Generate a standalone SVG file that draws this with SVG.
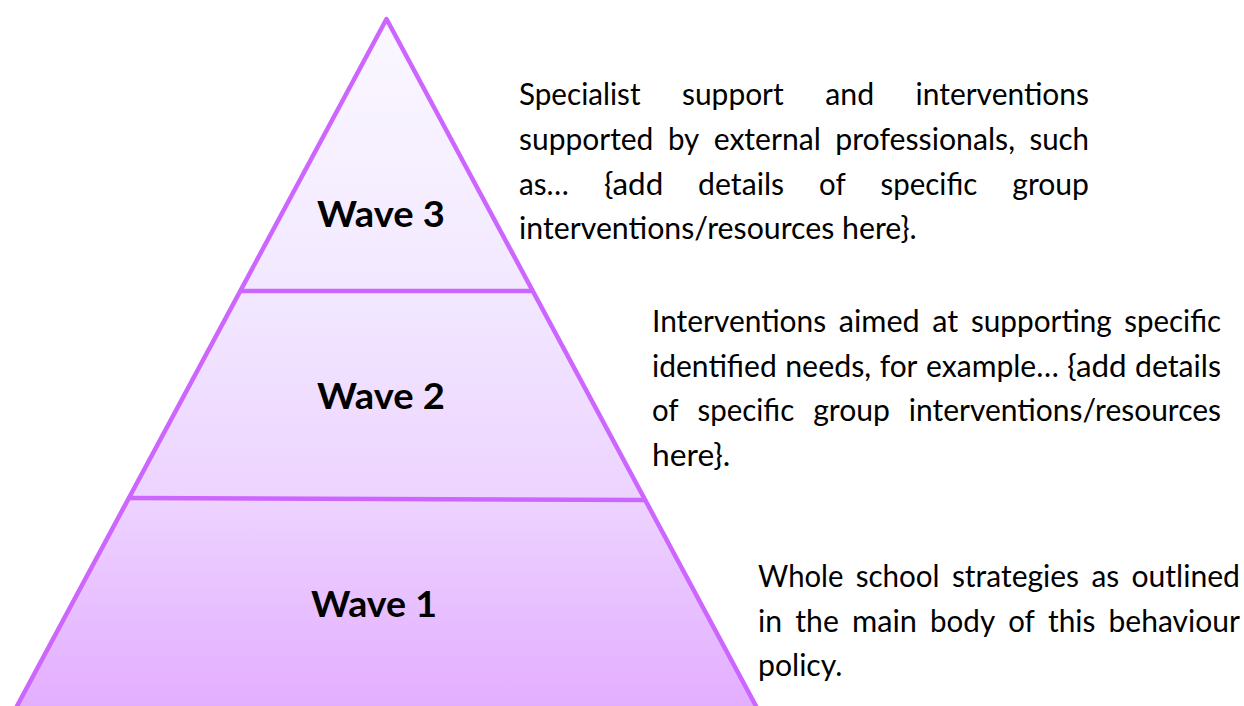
<svg xmlns="http://www.w3.org/2000/svg" width="1244" height="706" viewBox="0 0 1244 706">
  <style>
    .tier { stroke: none; }
    .edge { fill: none; stroke: #CC66FF; stroke-width: 4.5; stroke-linejoin: round; }
    .wave { font-family: Lato, "Open Sans", "Liberation Sans", sans-serif; font-weight: 700; font-size: 36px; fill: #000; text-anchor: middle; }
    .desc text { font-family: Lato, "Open Sans", "Liberation Sans", sans-serif; font-size: 30px; fill: #000; }
  </style>
  <defs>
    <linearGradient id="pyrFill" gradientUnits="userSpaceOnUse" x1="0" y1="19" x2="0" y2="706">
      <stop offset="0" stop-color="#FBF8FF"/>
      <stop offset="0.4" stop-color="#F2E8FF"/>
      <stop offset="0.7" stop-color="#EDD3FF"/>
      <stop offset="1" stop-color="#E3AEFF"/>
    </linearGradient>
  </defs>

  <rect width="1244" height="706" fill="#FFFFFF"/>

  <!-- pyramid tiers -->
  <g id="tier-wave3">
    <polygon class="tier" fill="url(#pyrFill)" points="386.5,19 532.8,291 240.2,291"/>
    <text class="wave" x="381" y="227" textLength="128" lengthAdjust="spacingAndGlyphs">Wave 3</text>
  </g>
  <g id="tier-wave2">
    <polygon class="tier" fill="url(#pyrFill)" points="240.2,291 532.8,291 644.6,499 128.4,499"/>
    <text class="wave" x="381" y="409" textLength="128" lengthAdjust="spacingAndGlyphs">Wave 2</text>
  </g>
  <g id="tier-wave1">
    <polygon class="tier" fill="url(#pyrFill)" points="128.4,499 644.6,499 763.5,720 9.5,720"/>
    <text class="wave" x="374" y="617" textLength="126" lengthAdjust="spacingAndGlyphs">Wave 1</text>
  </g>

  <!-- outline and tier dividers -->
  <g id="pyramid-outline">
    <polygon class="edge" points="386.5,19 763.5,720 9.5,720"/>
    <line class="edge" x1="241" y1="291" x2="532" y2="291"/>
    <line class="edge" x1="129" y1="498" x2="644" y2="500"/>
  </g>

  <!-- description beside Wave 3: justified, one text per word -->
  <g id="desc-wave3" class="desc" lengthAdjust="spacingAndGlyphs">
    <text x="519" y="105" textLength="121.5" lengthAdjust="spacingAndGlyphs">Specialist</text>
    <text x="682" y="105" textLength="101.7" lengthAdjust="spacingAndGlyphs">support</text>
    <text x="825.2" y="105" textLength="48.9" lengthAdjust="spacingAndGlyphs">and</text>
    <text x="915.6" y="105" textLength="173.4" lengthAdjust="spacingAndGlyphs">interventions</text>

    <text x="519" y="150" textLength="134.4" lengthAdjust="spacingAndGlyphs">supported</text>
    <text x="667.9" y="150" textLength="31.3" lengthAdjust="spacingAndGlyphs">by</text>
    <text x="713.7" y="150" textLength="107.1" lengthAdjust="spacingAndGlyphs">external</text>
    <text x="835.3" y="150" textLength="179.7" lengthAdjust="spacingAndGlyphs">professionals,</text>
    <text x="1029.4" y="150" textLength="59.6" lengthAdjust="spacingAndGlyphs">such</text>

    <text x="519" y="194.5" textLength="49.9" lengthAdjust="spacingAndGlyphs">as…</text>
    <text x="603.9" y="194.5" textLength="59.3" lengthAdjust="spacingAndGlyphs">{add</text>
    <text x="698.1" y="194.5" textLength="86" lengthAdjust="spacingAndGlyphs">details</text>
    <text x="819.1" y="194.5" textLength="26.6" lengthAdjust="spacingAndGlyphs">of</text>
    <text x="880.6" y="194.5" textLength="96.7" lengthAdjust="spacingAndGlyphs">specific</text>
    <text x="1012.3" y="194.5" textLength="76.7" lengthAdjust="spacingAndGlyphs">group</text>

    <text x="519" y="239" textLength="397.7" lengthAdjust="spacingAndGlyphs">interventions/resources here}.</text>
  </g>

  <!-- description beside Wave 2 -->
  <g id="desc-wave2" class="desc">
    <text x="652" y="332" textLength="174.1" lengthAdjust="spacingAndGlyphs">Interventions</text>
    <text x="838.7" y="332" textLength="81" lengthAdjust="spacingAndGlyphs">aimed</text>
    <text x="932.3" y="332" textLength="26" lengthAdjust="spacingAndGlyphs">at</text>
    <text x="970.9" y="332" textLength="140.9" lengthAdjust="spacingAndGlyphs">supporting</text>
    <text x="1124.3" y="332" textLength="96.7" lengthAdjust="spacingAndGlyphs">specific</text>

    <text x="652" y="376.5" textLength="124.7" lengthAdjust="spacingAndGlyphs">identified</text>
    <text x="785.2" y="376.5" textLength="86" lengthAdjust="spacingAndGlyphs">needs,</text>
    <text x="879.7" y="376.5" textLength="37.8" lengthAdjust="spacingAndGlyphs">for</text>
    <text x="926" y="376.5" textLength="132.8" lengthAdjust="spacingAndGlyphs">example…</text>
    <text x="1067.3" y="376.5" textLength="59.3" lengthAdjust="spacingAndGlyphs">{add</text>
    <text x="1135" y="376.5" textLength="86" lengthAdjust="spacingAndGlyphs">details</text>

    <text x="652" y="421" textLength="26.6" lengthAdjust="spacingAndGlyphs">of</text>
    <text x="697.5" y="421" textLength="96.7" lengthAdjust="spacingAndGlyphs">specific</text>
    <text x="813.2" y="421" textLength="76.7" lengthAdjust="spacingAndGlyphs">group</text>
    <text x="908.8" y="421" textLength="312.2" lengthAdjust="spacingAndGlyphs">interventions/resources</text>

    <text x="652" y="465.5" textLength="78.3" lengthAdjust="spacingAndGlyphs">here}.</text>
  </g>

  <!-- description beside Wave 1 -->
  <g id="desc-wave1" class="desc">
    <text x="758" y="587" textLength="85.4" lengthAdjust="spacingAndGlyphs">Whole</text>
    <text x="855.7" y="587" textLength="83.9" lengthAdjust="spacingAndGlyphs">school</text>
    <text x="951.9" y="587" textLength="127.2" lengthAdjust="spacingAndGlyphs">strategies</text>
    <text x="1091.4" y="587" textLength="27.8" lengthAdjust="spacingAndGlyphs">as</text>
    <text x="1131.4" y="587" textLength="108.6" lengthAdjust="spacingAndGlyphs">outlined</text>

    <text x="758" y="631.5" textLength="24.1" lengthAdjust="spacingAndGlyphs">in</text>
    <text x="795.3" y="631.5" textLength="43.5" lengthAdjust="spacingAndGlyphs">the</text>
    <text x="851.9" y="631.5" textLength="65" lengthAdjust="spacingAndGlyphs">main</text>
    <text x="930.1" y="631.5" textLength="65" lengthAdjust="spacingAndGlyphs">body</text>
    <text x="1008.2" y="631.5" textLength="26.6" lengthAdjust="spacingAndGlyphs">of</text>
    <text x="1048" y="631.5" textLength="47.4" lengthAdjust="spacingAndGlyphs">this</text>
    <text x="1108.5" y="631.5" textLength="131.5" lengthAdjust="spacingAndGlyphs">behaviour</text>

    <text x="758" y="676" textLength="84.4" lengthAdjust="spacingAndGlyphs">policy.</text>
  </g>
</svg>
